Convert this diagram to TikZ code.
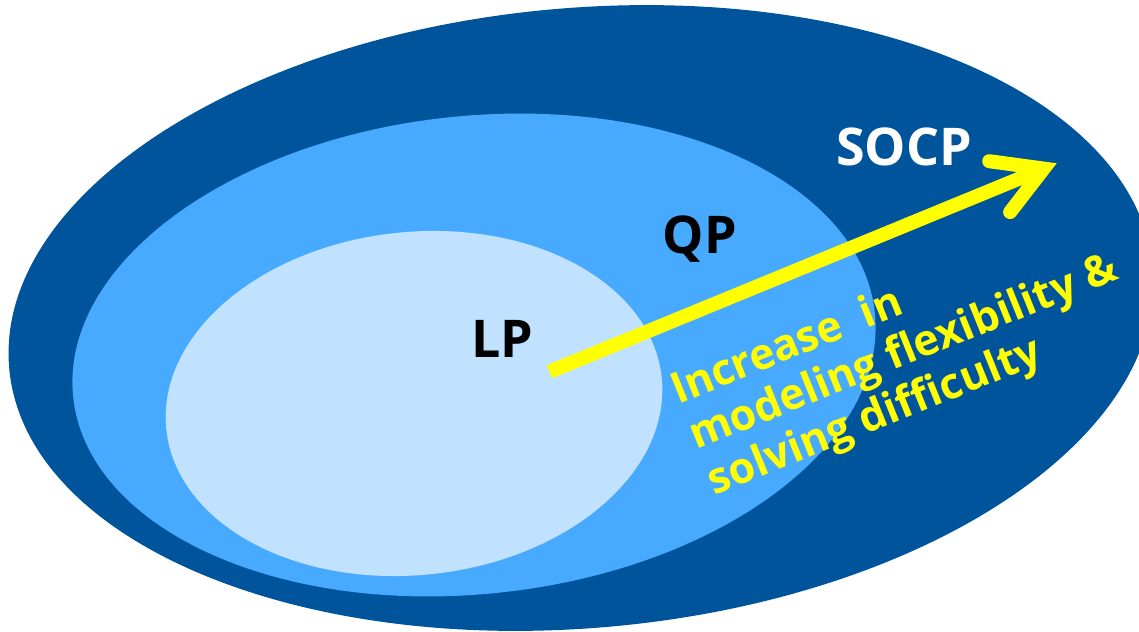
\documentclass[tikz,border=0pt]{standalone}
\usepackage{fontspec}
\setmainfont{Open Sans}
\usetikzlibrary{shapes.geometric}
\definecolor{outerblue}{RGB}{0,84,155}
\definecolor{midblue}{RGB}{72,170,255}
\definecolor{innerblue}{RGB}{193,226,255}
\definecolor{arrowyellow}{RGB}{255,255,0}
\begin{document}
\begin{tikzpicture}[x=1pt,y=-1pt,
  region/.style={ellipse, draw=none, inner sep=0pt, outer sep=0pt},
  biglabel/.style={font=\fontsize{52}{60}\selectfont\bfseries, inner sep=0pt, anchor=base},
  note/.style={font=\fontsize{43}{49}\selectfont\bfseries, text=arrowyellow, inner sep=0pt, align=left},
  shaft/.style={draw=arrowyellow, line width=14pt, line cap=butt},
  barbs/.style={draw=arrowyellow, line width=14pt, line cap=round, line join=miter}]
\useasboundingbox (0,0) rectangle (1139,631);
\clip (0,0) rectangle (1139,631);
% nested sets
\node[region, fill=outerblue, minimum width=1148pt, minimum height=620pt, rotate=5] (socpset) at (581,318) {};
\node[region, fill=midblue, minimum width=806pt, minimum height=478pt, rotate=6] (qpset) at (474,355) {};
\node[region, fill=innerblue, minimum width=498pt, minimum height=343pt, rotate=6] (lpset) at (414,403.5) {};
% arrow
\coordinate (tail) at (549.5,371.7);
\coordinate (tip) at (1043.7,168.6);
\coordinate (barbA) at (989.2,161.2);
\coordinate (barbB) at (1010.1,212.1);
\draw[shaft] (tail) -- (tip);
\draw[barbs] (barbA) -- (tip) -- (barbB);
% labels
\node[biglabel, text=white] (socp) at (904,165) {SOCP};
\node[biglabel, text=black] (qp) at (700,253.5) {QP};
\node[biglabel, text=black] (lp) at (502.5,357) {LP};
\node[note, rotate=22] (trend) at (904,354) {Increase~~in\\modeling flexibility \&\\solving difficulty};
\end{tikzpicture}
\end{document}
